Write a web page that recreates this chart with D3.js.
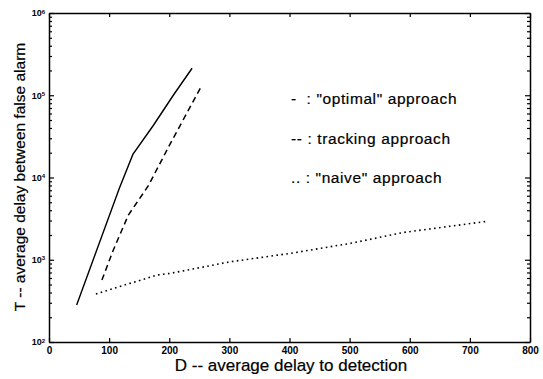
<!DOCTYPE html>
<html>
<head>
<meta charset="utf-8">
<script src="https://cdn.jsdelivr.net/npm/d3@7"></script>
<style>
  body { margin: 0; background: #fff; }
  svg text { font-family: "Liberation Sans", Arial, Helvetica, sans-serif; }
</style>
</head>
<body>
<svg id="svg"></svg>
<script>
// values (D = average delay to detection, T = delay between false alarms)
const optimalD = [46, 117, 139.5, 174, 207, 238];
const optimalT = [282, 7400, 19100, 43500, 100700, 213000];

const trackingD = [88, 107, 132, 165, 202, 254.5];
const trackingT = [567, 1315, 3500, 7890, 26000, 133000];

const naiveD = [78, 180, 202, 302, 402, 502, 590, 727];
const naiveT = [384, 653, 684, 946, 1197, 1585, 2150, 2920];

const xTicks = [0, 100, 200, 300, 400, 500, 600, 700, 800];
const yDecades = [1e2, 1e3, 1e4, 1e5, 1e6];
const yExponents = ["2", "3", "4", "5", "6"];

const legendLabels = ['-  : "optimal" approach', '-- : tracking approach', '.. : "naive" approach'];

const xTitle = "D -- average delay to detection";
const yTitle = "T -- average delay between false alarm";

let layout = {"width": 543,
              "height": 379,
              "marginTop": 13,
              "marginRight": 13,
              "marginBottom": 37,
              "marginLeft": 49};

let svg = d3.select("#svg")
            .attr("width", layout.width)
            .attr("height", layout.height);

let xScale = d3.scaleLinear()
               .domain([0, 800])
               .range([layout.marginLeft, layout.width - layout.marginRight]);

let yScale = d3.scaleLog()
               .domain([1e2, 1e6])
               .range([layout.height - layout.marginBottom, layout.marginTop]);

// minor ticks 2..9 per decade
let yMinor = [];
yDecades.slice(0, -1).forEach(dec => {
  for (let m = 2; m <= 9; m++) yMinor.push(m * dec);
});

const x0 = xScale.range()[0], x1 = xScale.range()[1];
const yB = yScale.range()[0], yT = yScale.range()[1];

// bottom axis
let gx = svg.append("g")
            .attr("transform", `translate(0, ${yB})`)
            .call(d3.axisBottom(xScale).tickValues(xTicks).tickSizeInner(-4).tickSizeOuter(0).tickPadding(5));
gx.selectAll("text").attr("font-size", 10).attr("font-weight", "bold").attr("fill", "#000");

// top axis
svg.append("g")
   .attr("transform", `translate(0, ${yT})`)
   .call(d3.axisTop(xScale).tickValues(xTicks).tickSizeInner(-4).tickSizeOuter(0).tickFormat(""));

// left axis, decades with labels
let gy = svg.append("g")
            .attr("transform", `translate(${x0}, 0)`)
            .call(d3.axisLeft(yScale).tickValues(yDecades).tickSizeInner(-5).tickSizeOuter(0).tickPadding(4).tickFormat(""));
gy.selectAll(".tick text")
  .attr("font-size", 9)
  .attr("font-weight", "bold")
  .attr("fill", "#000")
  .each(function(d, i) {
    let t = d3.select(this);
    t.append("tspan").text("10");
    t.append("tspan").attr("dy", "-0.45em").attr("font-size", 6).text(yExponents[i]);
  });

svg.append("g")
   .attr("transform", `translate(${x0}, 0)`)
   .call(d3.axisLeft(yScale).tickValues(yMinor).tickSizeInner(-3).tickSizeOuter(0).tickFormat(""))
   .select(".domain").remove();

// right axis
svg.append("g")
   .attr("transform", `translate(${x1}, 0)`)
   .call(d3.axisRight(yScale).tickValues(yDecades).tickSizeInner(-5).tickSizeOuter(0).tickFormat(""));

svg.append("g")
   .attr("transform", `translate(${x1}, 0)`)
   .call(d3.axisRight(yScale).tickValues(yMinor).tickSizeInner(-3).tickSizeOuter(0).tickFormat(""))
   .select(".domain").remove();

svg.selectAll(".domain").attr("stroke-width", 1.5);
svg.selectAll(".tick line").attr("stroke-width", 1.2);

// curves
let line = d3.line()
             .x(d => xScale(d[0]))
             .y(d => yScale(d[1]));

let series = [
  {"name": "optimal", "pts": d3.zip(optimalD, optimalT), "dash": null, "w": 1.4},
  {"name": "tracking", "pts": d3.zip(trackingD, trackingT), "dash": "6,4", "w": 1.5},
  {"name": "naive", "pts": d3.zip(naiveD, naiveT), "dash": "1.6,3.4", "w": 1.6}
];

svg.append("g")
   .selectAll("path")
   .data(series)
   .join("path")
   .attr("d", d => line(d.pts))
   .attr("fill", "none")
   .attr("stroke", "#000")
   .attr("stroke-width", d => d.w)
   .attr("stroke-dasharray", d => d.dash);

// legend text
svg.append("g")
   .selectAll("text")
   .data(legendLabels)
   .join("text")
   .attr("x", 291)
   .attr("y", (d, i) => 104 + i * 39.5)
   .attr("font-size", 15.5)
   .attr("letter-spacing", 0.6)
   .style("white-space", "pre")
   .attr("fill", "#000")
   .attr("stroke", "#000")
   .attr("stroke-width", 0.2)
   .text(d => d);

// axis titles
svg.append("text")
   .attr("x", 291)
   .attr("y", 371)
   .attr("text-anchor", "middle")
   .attr("font-size", 17)
   .attr("fill", "#000")
   .attr("stroke", "#000")
   .attr("stroke-width", 0.2)
   .text(xTitle);

svg.append("text")
   .attr("text-anchor", "middle")
   .attr("transform", `translate(25, 177) rotate(-90)`)
   .attr("font-size", 15.5)
   .attr("fill", "#000")
   .attr("stroke", "#000")
   .attr("stroke-width", 0.2)
   .text(yTitle);
</script>
</body>
</html>
